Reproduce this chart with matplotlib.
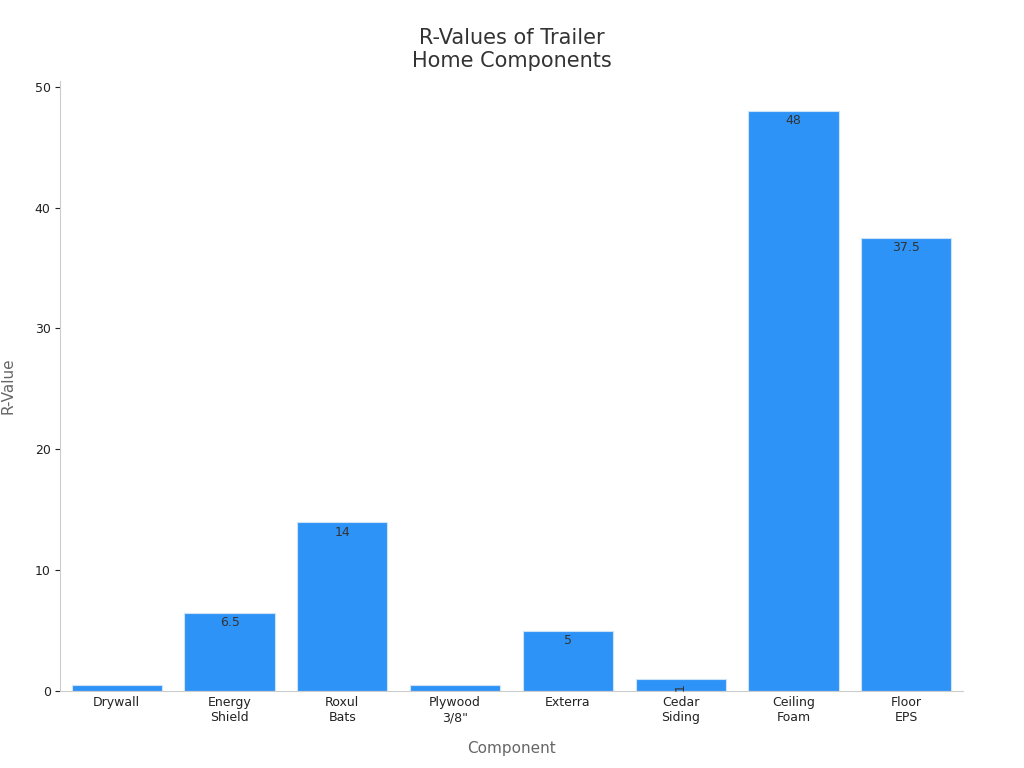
import matplotlib.pyplot as plt

components = ['Drywall', 'Energy\nShield', 'Roxul\nBats', 'Plywood\n3/8"', 'Exterra',
              'Cedar\nSiding', 'Ceiling\nFoam', 'Floor\nEPS']
r_values = [0.5, 6.5, 14, 0.5, 5, 1, 48, 37.5]
value_labels = ['', '6.5', '14', '', '5', '1', '48', '37.5']

fig, ax = plt.subplots(figsize=(10.24, 7.68), dpi=100)
fig.subplots_adjust(left=0.059, right=0.94, top=0.895, bottom=0.1)

x = range(len(components))
bars = ax.bar(x, r_values, width=0.8, color='#2e93f7', edgecolor='#cfe3f7', linewidth=0.8)

for b, lab in zip(bars, value_labels):
    if not lab:
        continue
    rot = 90 if lab == '1' else 0
    ax.text(b.get_x() + b.get_width() / 2, b.get_height() - 0.3, lab,
            ha='center', va='top', fontsize=9, color='#333333', rotation=rot)

ax.set_xticks(list(x))
ax.set_xticklabels(components, fontsize=9, color='#222222')
ax.set_xlim(-0.5, len(components) - 0.5)
ax.set_ylim(0, 50.5)
ax.set_yticks([0, 10, 20, 30, 40, 50])
ax.tick_params(axis='y', labelsize=9, colors='#222222')
ax.tick_params(axis='x', length=0)

for s in ['top', 'right']:
    ax.spines[s].set_visible(False)
ax.spines['left'].set_color('#cccccc')
ax.spines['bottom'].set_color('#cccccc')

ax.set_xlabel('Component', fontsize=11, color='#666666', labelpad=12)
ax.set_ylabel('R-Value', fontsize=11, color='#666666', labelpad=14)
ax.set_title('R-Values of Trailer\nHome Components', fontsize=15, color='#333333', pad=10)

plt.savefig('out.png')
